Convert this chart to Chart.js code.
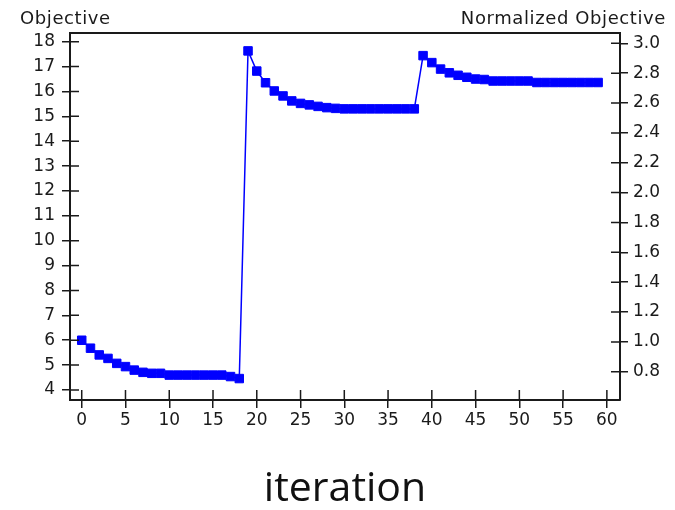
<!DOCTYPE html>
<html lang="en">
<head>
    <meta charset="UTF-8">
    <title>Objective vs iteration</title>
    <script src="https://cdn.jsdelivr.net/npm/chart.js"></script>
    <style>
        body { margin: 0; background: #fff; }
        #wrap { width: 675px; height: 510px; }
    </style>
</head>
<body>
    <div id="wrap"><canvas id="objChart" width="675" height="510"></canvas></div>

    <script>
        // iteration index and objective value
        const iterations = [
            0, 1, 2, 3, 4, 5, 6, 7, 8, 9,
            10, 11, 12, 13, 14, 15, 16, 17, 18, 19,
            20, 21, 22, 23, 24, 25, 26, 27, 28, 29,
            30, 31, 32, 33, 34, 35, 36, 37, 38, 39,
            40, 41, 42, 43, 44, 45, 46, 47, 48, 49,
            50, 51, 52, 53, 54, 55, 56, 57, 58, 59
        ];
        const objective = [
            6.00, 5.68, 5.41, 5.27, 5.07, 4.94, 4.80, 4.71, 4.67, 4.67,
            4.60, 4.60, 4.60, 4.60, 4.60, 4.60, 4.60, 4.54, 4.46, 17.63,
            16.82, 16.35, 16.02, 15.82, 15.62, 15.52, 15.46, 15.40, 15.35, 15.32,
            15.30, 15.30, 15.30, 15.30, 15.30, 15.30, 15.30, 15.30, 15.30, 17.44,
            17.16, 16.90, 16.75, 16.65, 16.57, 16.50, 16.48, 16.42, 16.42, 16.42,
            16.42, 16.42, 16.36, 16.36, 16.36, 16.36, 16.36, 16.36, 16.36, 16.36
        ];
        const leftTitle = 'Objective';
        const rightTitle = 'Normalized Objective';
        const xTitle = 'iteration';

        const ink = '#1a1a1a';
        const tickFont = { family: '"DejaVu Sans", sans-serif', size: 17 };

        // closes the box on top and draws the inner half of each tick mark
        const frame = {
            id: 'frame',
            afterDraw(chart) {
                const { ctx, chartArea: a, scales } = chart;
                ctx.save();
                ctx.strokeStyle = ink;
                ctx.lineWidth = 2;
                ctx.beginPath();
                ctx.moveTo(a.left - 1, a.top);
                ctx.lineTo(a.right + 1, a.top);
                ctx.stroke();

                ctx.lineWidth = 1.5;
                ctx.beginPath();
                scales.x.ticks.forEach(t => {
                    const px = scales.x.getPixelForValue(t.value);
                    ctx.moveTo(px, a.bottom);
                    ctx.lineTo(px, a.bottom - 10);
                });
                scales.y.ticks.forEach(t => {
                    const py = scales.y.getPixelForValue(t.value);
                    ctx.moveTo(a.left, py);
                    ctx.lineTo(a.left + 9, py);
                });
                scales.y2.ticks.forEach(t => {
                    const py = scales.y2.getPixelForValue(t.value);
                    ctx.moveTo(a.right, py);
                    ctx.lineTo(a.right - 9, py);
                });
                ctx.stroke();

                ctx.fillStyle = ink;
                ctx.font = '18px "DejaVu Sans", sans-serif';
                ctx.letterSpacing = '0.6px';
                ctx.textBaseline = 'alphabetic';
                ctx.textAlign = 'left';
                ctx.fillText(leftTitle, 20, 24);
                ctx.textAlign = 'right';
                ctx.fillText(rightTitle, 666, 24);
                ctx.restore();
            }
        };

        const ctx = document.getElementById('objChart').getContext('2d');
        const chart = new Chart(ctx, {
            type: 'line',
            data: {
                datasets: [{
                    label: leftTitle,
                    data: iterations.map((it, i) => ({ x: it, y: objective[i] })),
                    borderColor: '#0000ff',
                    backgroundColor: '#0000ff',
                    borderWidth: 1.5,
                    pointStyle: 'rect',
                    pointRadius: 6,
                    pointBorderWidth: 1,
                    tension: 0,
                    yAxisID: 'y'
                }]
            },
            options: {
                responsive: false,
                animation: false,
                layout: { padding: { top: 33, left: 0, right: 0, bottom: 0 } },
                plugins: {
                    legend: { display: false },
                    tooltip: { enabled: false }
                },
                scales: {
                    x: {
                        type: 'linear',
                        position: 'bottom',
                        min: -1.34,
                        max: 61.5,
                        afterFit: s => { s.height = 110; },
                        ticks: { stepSize: 5, includeBounds: false, color: ink, font: tickFont, padding: 2, maxRotation: 0 },
                        grid: { drawOnChartArea: false, tickLength: 8, color: ink, lineWidth: 1.5 },
                        border: { color: ink, width: 2 },
                        title: {
                            display: true,
                            text: xTitle,
                            color: '#111',
                            font: { family: '"Open Sans", sans-serif', size: 41, lineHeight: 1 },
                            padding: { top: 0, bottom: 0 }
                        }
                    },
                    y: {
                        position: 'left',
                        min: 3.598,
                        max: 18.35,
                        afterFit: s => { s.width = 70; },
                        ticks: { stepSize: 1, includeBounds: false, color: ink, font: tickFont, padding: 7 },
                        grid: { drawOnChartArea: false, tickLength: 8, color: ink, lineWidth: 1.5 },
                        border: { color: ink, width: 2 }
                    },
                    y2: {
                        position: 'right',
                        min: 0.611,
                        max: 3.069,
                        afterFit: s => { s.width = 55; },
                        ticks: {
                            stepSize: 0.2,
                            includeBounds: false,
                            color: ink,
                            font: tickFont,
                            padding: 5,
                            callback: v => v.toFixed(1)
                        },
                        grid: { drawOnChartArea: false, tickLength: 8, color: ink, lineWidth: 1.5 },
                        border: { color: ink, width: 2 }
                    }
                }
            },
            plugins: [frame]
        });
    </script>
</body>
</html>
